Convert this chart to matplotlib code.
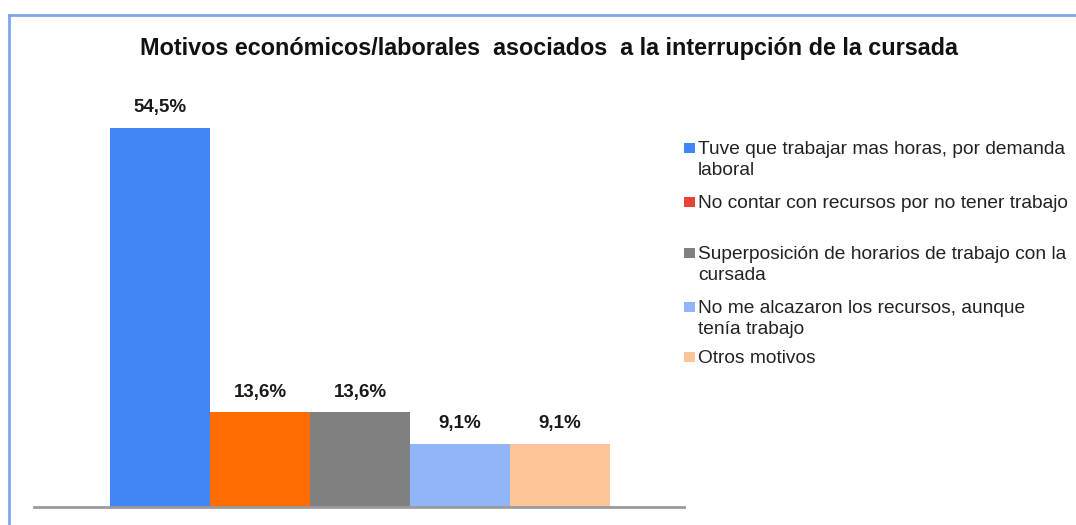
import matplotlib
matplotlib.use("Agg")
import matplotlib.pyplot as plt
from matplotlib.lines import Line2D
from matplotlib.patches import Rectangle

plt.rcParams['font.family'] = ['Liberation Sans', 'DejaVu Sans']

title = "Motivos económicos/laborales  asociados  a la interrupción de la cursada"
categories = [
    "Tuve que trabajar mas horas, por demanda\nlaboral",
    "No contar con recursos por no tener trabajo",
    "Superposición de horarios de trabajo con la\ncursada",
    "No me alcazaron los recursos, aunque\ntenía trabajo",
    "Otros motivos",
]
values = [54.5, 13.6, 13.6, 9.1, 9.1]
labels = ["54,5%", "13,6%", "13,6%", "9,1%", "9,1%"]
bar_colors = ["#4285f4", "#ff6d00", "#808080", "#91b5f8", "#ffc59a"]
legend_colors = ["#4285f4", "#ea4335", "#808080", "#91b5f8", "#ffc59a"]

W, H = 1076, 525
fig = plt.figure(figsize=(W / 100, H / 100), dpi=100)
fig.patch.set_facecolor("white")

# axes: baseline from x=34 to 684 px, at y=507 px
ax = fig.add_axes([34 / W, 1 - 507 / H, 650 / W, 417 / H])
x = list(range(len(values)))
ax.bar(x, values, width=1.0, color=bar_colors, edgecolor="none")
ax.set_xlim(-1.26, 5.24)
ax.set_ylim(0, 60)
for xi, v, lab in zip(x, values, labels):
    ax.annotate(lab, (xi, v), xytext=(0, 8.5), textcoords="offset points",
                ha="center", va="bottom", fontsize=13.5, fontweight="bold",
                color="#1a1a1a")
for s in ["top", "right", "left"]:
    ax.spines[s].set_visible(False)
ax.spines["bottom"].set_color("#9a9a9a")
ax.spines["bottom"].set_linewidth(2)
ax.set_xticks([])
ax.set_yticks([])
ax.patch.set_alpha(0)

# title
fig.text(549 / W, 1 - 49 / H, title, ha="center", va="center",
         fontsize=16.8, fontweight="bold", color="#111111")

# border
fig.add_artist(Line2D([9 / W, 9 / W], [0, 1 - 15 / H], color="#7fa7ee", lw=2,
                      transform=fig.transFigure))
fig.add_artist(Line2D([9 / W, 1], [1 - 15 / H, 1 - 15 / H], color="#7fa7ee", lw=2,
                      transform=fig.transFigure))

# legend
ys = [148, 202, 253, 307, 357]
for cat, col, yc in zip(categories, legend_colors, ys):
    fig.add_artist(Rectangle((684 / W, 1 - (yc + 5) / H), 11 / W, 10 / H,
                             facecolor=col, edgecolor="none",
                             transform=fig.transFigure))
    fig.text(698 / W, 1 - (yc - 7) / H, cat, ha="left", va="top",
             fontsize=13.8, color="#222222", linespacing=1.28)

fig.savefig("out.png", dpi=100)
